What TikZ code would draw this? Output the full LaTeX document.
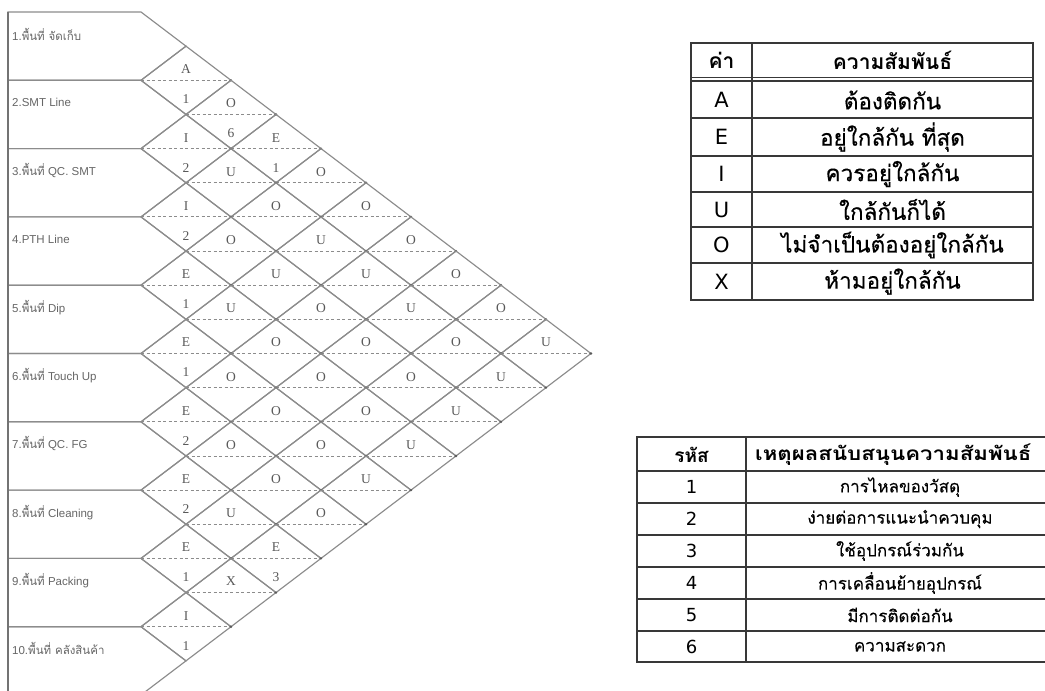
\documentclass[tikz,border=0pt]{standalone}
\usepackage{fontspec}
\setmainfont{Liberation Sans}
\newfontfamily\thai[Script=Thai]{Loma}
\newfontfamily\thaiheavy[Script=Thai,FakeBold=0.4]{Loma}
\newfontfamily\thaimid[Script=Thai,FakeBold=0.25]{Loma}
\newfontfamily\relfont{Liberation Serif}
\newfontfamily\dv{DejaVu Sans}
\begin{document}
\begin{tikzpicture}[x=1pt,y=-1pt,
  chartline/.style={draw=black!45, line width=1.15pt, line join=miter},
  dashln/.style={draw=black!45, dash pattern=on 3pt off 2.5pt, line width=0.9pt},
  rel/.style={font=\relfont\fontsize{13.5}{13.5}\selectfont, text=black!65, inner sep=0pt},
  lab/.style={font=\fontsize{11.5}{11.5}\selectfont, text=black!60, anchor=west, inner sep=0pt},
  tline/.style={draw=black!78, line width=1.4pt},
  tcell/.style={font=\thaiheavy\fontsize{22.5}{22.5}\selectfont, text=black, inner sep=0pt},
  tlet/.style={font=\dv\fontsize{21}{21}\selectfont, text=black, inner sep=0pt},
  tcellb/.style={font=\thai\bfseries\fontsize{21}{21}\selectfont, text=black, inner sep=0pt},
  scell/.style={font=\thaimid\fontsize{17}{17}\selectfont, text=black, inner sep=0pt},
  snum/.style={font=\dv\fontsize{18}{18}\selectfont, text=black, inner sep=0pt},
  scellb/.style={font=\thai\bfseries\fontsize{19}{19}\selectfont, text=black, inner sep=0pt}]
\useasboundingbox (0,0) rectangle (1045,691);
\clip (0,0) rectangle (1045,691);
\fill[white] (0,0) rectangle (1045,691);

% ---------- boxes (pentagons) ----------
\foreach \i in {1,...,10}{
  \pgfmathsetmacro\t{12+(\i-1)*68.3}
  \draw[chartline] (8,\t) -- (141,\t) -- (186,{\t+34.15}) -- (141,{\t+68.3}) -- (8,{\t+68.3}) -- cycle;
}
\draw[draw=black!55, line width=1.6pt] (8,12) -- (8,700);

% ---------- diamonds ----------
\foreach \i in {1,...,9}{
  \pgfmathtruncatemacro\ii{\i+1}
  \foreach \j in {\ii,...,10}{
    \pgfmathsetmacro\cx{141+45*(\j-\i)}
    \pgfmathsetmacro\cy{46.15+(\i+\j-2)*34.15}
    \draw[chartline] ({\cx-45},\cy) -- (\cx,{\cy-34.15}) -- ({\cx+45},\cy) -- (\cx,{\cy+34.15}) -- cycle;
    \draw[dashln] ({\cx-45},\cy) -- ({\cx+45},\cy);
    \fill[black!65] ({\cx+45},\cy) circle (1.3pt);
  }
}

% ---------- box labels ----------
\foreach \i/\txt in {1/{1.{\thai พื้นที่ จัดเก็บ}},2/{2.SMT Line},3/{3.{\thai พื้นที่} QC. SMT},
  4/{4.PTH Line},5/{5.{\thai พื้นที่} Dip},6/{6.{\thai พื้นที่} Touch Up},7/{7.{\thai พื้นที่} QC. FG},
  8/{8.{\thai พื้นที่} Cleaning},9/{9.{\thai พื้นที่} Packing},10/{10.{\thai พื้นที่ คลังสินค้า}}}{
  \pgfmathsetmacro\t{12+(\i-1)*68.3}
  \node[lab] (lab\i) at (12,{\t+22}) {\txt};
}

% ---------- relationship letters ----------
\foreach \i/\j/\u in {1/2/A,1/3/O,1/4/E,1/5/O,1/6/O,1/7/O,1/8/O,1/9/O,1/10/U,
  2/3/I,2/4/U,2/5/O,2/6/U,2/7/U,2/8/U,2/9/O,2/10/U,
  3/4/I,3/5/O,3/6/U,3/7/O,3/8/O,3/9/O,3/10/U,
  4/5/E,4/6/U,4/7/O,4/8/O,4/9/O,4/10/U,
  5/6/E,5/7/O,5/8/O,5/9/O,5/10/U,
  6/7/E,6/8/O,6/9/O,6/10/O,
  7/8/E,7/9/U,7/10/E,
  8/9/E,8/10/X,
  9/10/I}{
  \pgfmathsetmacro\cx{141+45*(\j-\i)}
  \pgfmathsetmacro\cy{46.15+(\i+\j-2)*34.15}
  \node[rel] (u\i-\j) at (\cx,{\cy-11}) {\u};
}
\foreach \i/\j/\l in {1/2/1,1/3/6,1/4/1,2/3/2,3/4/2,4/5/1,5/6/1,6/7/2,7/8/2,7/10/3,8/9/1,9/10/1}{
  \pgfmathsetmacro\cx{141+45*(\j-\i)}
  \pgfmathsetmacro\cy{46.15+(\i+\j-2)*34.15}
  \node[rel] (l\i-\j) at (\cx,{\cy+19}) {\l};
}

% ---------- table 1 ----------
\draw[tline] (691,43) rectangle (1033,300);
\draw[tline] (752,43) -- (752,300);
\draw[tline] (691,77.5) -- (1033,77.5);
\draw[tline] (691,81) -- (1033,81);
\foreach \y in {118,156,192,227,263}{ \draw[tline] (691,\y) -- (1033,\y); }
\node[tcellb] (h1a) at (721.5,60) {ค่า};
\node[tcellb] (h1b) at (892.5,60) {ความสัมพันธ์};
\foreach \k/\y/\a/\b in {1/100/A/ต้องติดกัน,2/137/E/อยู่ใกล้กัน ที่สุด,3/174/I/ควรอยู่ใกล้กัน,
  4/209.5/U/ใกล้กันก็ได้,5/245/O/ไม่จำเป็นต้องอยู่ใกล้กัน,6/281.5/X/ห้ามอยู่ใกล้กัน}{
  \node[tlet] (ta\k) at (721.5,\y) {\a};
  \node[tcell] (tb\k) at (892.5,\y) {\b};
}

% ---------- table 2 ----------
\draw[tline] (1060,437) -- (637,437) -- (637,662) -- (1060,662);
\draw[tline] (746,437) -- (746,662);
\foreach \y in {471,503,535,567,599,631}{ \draw[tline] (637,\y) -- (1060,\y); }
\node[scellb] (h2a) at (691.5,455) {รหัส};
\node[scellb, anchor=west] (h2b) at (755,455) {\scalebox{1.17}[1]{เหตุผลสนับสนุนความสัมพันธ์}};
\foreach \k/\y/\b in {1/487/การไหลของวัสดุ,2/519/ง่ายต่อการแนะนำควบคุม,3/551/ใช้อุปกรณ์ร่วมกัน,
  4/583/การเคลื่อนย้ายอุปกรณ์,5/615/มีการติดต่อกัน,6/646.5/ความสะดวก}{
  \node[snum] (sa\k) at (691.5,\y) {\k};
  \node[scell] (sb\k) at (900,\y) {\b};
}
\end{tikzpicture}
\end{document}
